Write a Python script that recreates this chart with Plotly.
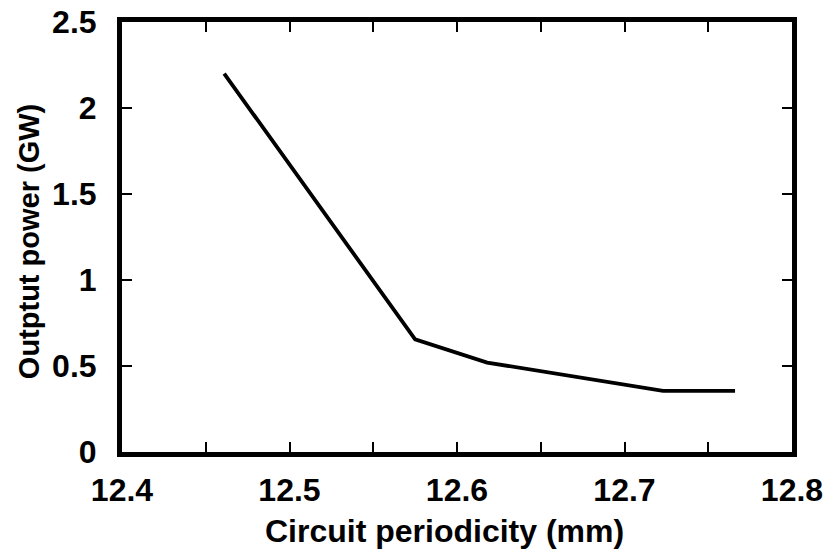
import plotly.graph_objects as go

periodicity_mm = [12.461, 12.575, 12.618, 12.723, 12.766]
output_power_gw = [2.20, 0.655, 0.52, 0.355, 0.355]

x_tick_vals = [12.40, 12.45, 12.50, 12.55, 12.60, 12.65, 12.70, 12.75, 12.80]
x_tick_text = ["12.4", "", "12.5", "", "12.6", "", "12.7", "", "12.8"]
y_tick_vals = [0, 0.5, 1, 1.5, 2, 2.5]
y_tick_text = ["0", "0.5", "1", "1.5", "2", "2.5"]

x_title = "Circuit periodicity (mm)"
y_title = "Outptut power (GW)"

font_family = "Liberation Sans, Arial, sans-serif"

fig = go.Figure()
fig.add_trace(go.Scatter(
    x=periodicity_mm, y=output_power_gw, mode="lines",
    line=dict(color="black", width=3.8), showlegend=False,
))

axis_common = dict(
    showgrid=False, zeroline=False, automargin=False,
    showline=True, linecolor="black", linewidth=5, mirror="ticks",
    ticks="inside", ticklen=10, tickwidth=2, tickcolor="black",
    tickfont=dict(family=font_family, size=32, color="black", weight="bold"),
)

fig.update_layout(
    width=831, height=554,
    margin=dict(l=122, r=39, t=22, b=102),
    paper_bgcolor="white", plot_bgcolor="white",
    font=dict(family=font_family, color="black"),
    xaxis=dict(
        range=[12.4, 12.8], tickmode="array",
        tickvals=x_tick_vals, ticktext=x_tick_text,
        ticklabelstandoff=6,
        **axis_common,
    ),
    yaxis=dict(
        range=[0, 2.5], tickmode="array",
        tickvals=y_tick_vals, ticktext=y_tick_text,
        ticklabelstandoff=14,
        **axis_common,
    ),
    annotations=[
        dict(text=x_title, xref="paper", yref="paper", x=0.482, y=-0.1837,
             xanchor="center", yanchor="middle", showarrow=False,
             font=dict(family=font_family, size=32, color="black", weight="bold")),
        dict(text=y_title, xref="paper", yref="paper", x=-0.1388, y=0.488,
             xanchor="center", yanchor="middle", textangle=-90, showarrow=False,
             font=dict(family=font_family, size=29, color="black", weight="bold")),
    ],
)

fig.write_html("out.html", config={"displayModeBar": False},
               post_script="document.body.style.margin='0px';document.body.style.overflow='hidden';")
